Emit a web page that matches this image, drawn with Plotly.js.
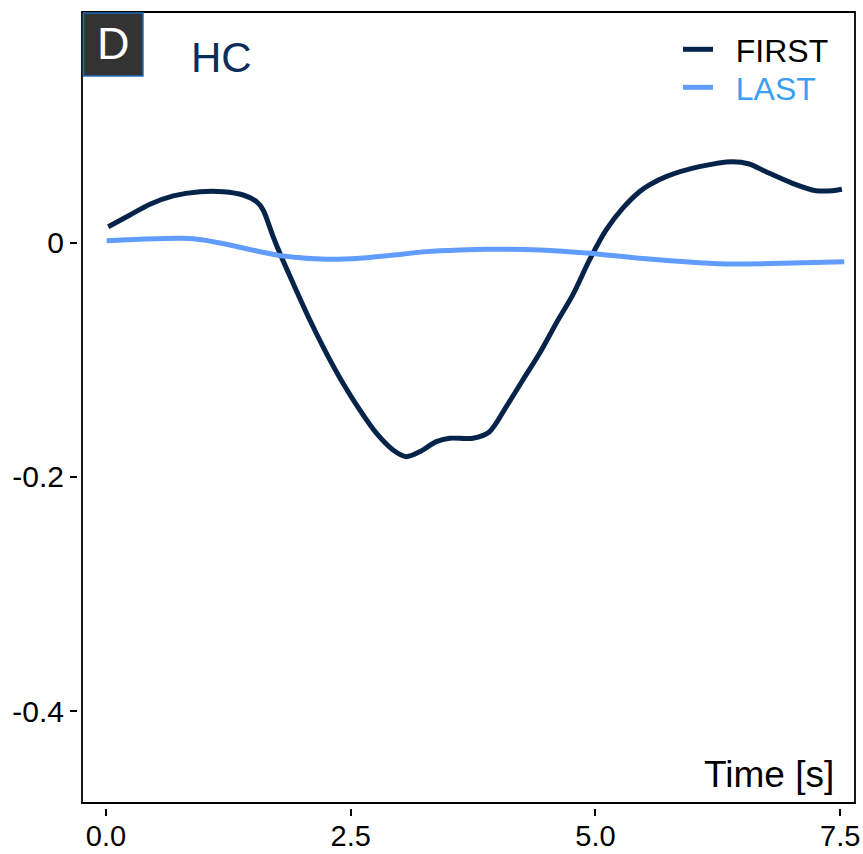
<!DOCTYPE html>
<html>
<head>
<meta charset="utf-8">
<script src="https://cdn.plot.ly/plotly-3.0.1.min.js"></script>
<style>html,body{margin:0;padding:0;background:#fff;}#chart{width:863px;height:854px;}</style>
</head>
<body>
<div id="chart"></div>
<script>
// FIRST series (time in s, value)
const firstTime = [0.023,0.245,0.449,0.687,0.959,1.197,1.401,1.538,1.605,1.707,1.776,1.911,2.082,2.252,2.421,2.592,2.762,2.932,3.068,3.204,3.374,3.510,3.748,3.918,4.089,4.258,4.429,4.599,4.768,4.939,5.109,5.279,5.449,5.551,5.721,6.061,6.401,6.571,6.742,7.013,7.252,7.421,7.517];
const firstValue = [0.0139,0.0239,0.0331,0.0402,0.0438,0.0438,0.0410,0.0353,0.0282,0.0054,-0.0088,-0.0344,-0.0658,-0.0943,-0.1199,-0.1427,-0.1626,-0.1769,-0.1826,-0.1784,-0.1698,-0.1669,-0.1669,-0.1613,-0.1399,-0.1171,-0.0943,-0.0686,-0.0444,-0.0145,0.0111,0.0297,0.0438,0.0496,0.0567,0.0652,0.0695,0.0675,0.0609,0.0510,0.0447,0.0447,0.0459];
// LAST series
const lastTime = [0.007,0.347,0.789,0.993,1.265,1.538,1.809,2.252,2.592,2.932,3.272,3.612,3.918,4.429,4.939,5.449,6.061,6.401,6.911,7.541];
const lastValue = [0.0020,0.0032,0.0040,0.0026,-0.0017,-0.0068,-0.0111,-0.0139,-0.0131,-0.0103,-0.0074,-0.0060,-0.0054,-0.0060,-0.0088,-0.0131,-0.0168,-0.0179,-0.0174,-0.0160];
// Ticks
const xTickVals = [0, 2.5, 5, 7.5];
const xTickText = ["0.0", "2.5", "5.0", "7.5"];
const yTickVals = [0, -0.2, -0.4];
const yTickText = ["0", "-0.2", "-0.4"];

const FONT = '"Liberation Sans", Arial, Helvetica, sans-serif';
const NB = '\u00a0\u00a0';

const traces = [
  {x: firstTime, y: firstValue, type: 'scatter', mode: 'lines', name: NB + 'FIRST', legend: 'legend',
   line: {color: '#06244a', width: 5, shape: 'spline', smoothing: 0.8}},
  {x: lastTime, y: lastValue, type: 'scatter', mode: 'lines', name: NB + '<span style="color:#3a9ff0">LAST</span>', legend: 'legend2',
   line: {color: '#619CFF', width: 5, shape: 'spline', smoothing: 0.8}}
];

const L = 78, R = 855, T = 12, B = 808;
const PW = R - L, PH = B - T;
const px = v => (v - L) / PW;
const py = v => (B - v) / PH;

const legendBase = {xanchor: 'left', yanchor: 'top',
  font: {family: FONT, size: 32, color: '#000'},
  bgcolor: 'rgba(0,0,0,0)', borderwidth: 0, itemwidth: 30, tracegroupgap: 0};

const layout = {
  width: 863, height: 854,
  margin: {l: L, r: 863 - R, t: T, b: 854 - B, pad: 0},
  paper_bgcolor: '#fff', plot_bgcolor: '#fff',
  font: {family: FONT, color: '#000'},
  showlegend: true,
  legend: Object.assign({}, legendBase, {x: px(678), y: py(22)}),
  legend2: Object.assign({}, legendBase, {x: px(678), y: py(60)}),
  xaxis: {range: [-0.286, 7.651], tickvals: xTickVals, ticktext: xTickText,
          ticks: 'outside', ticklen: 7, tickwidth: 2, tickcolor: '#000',
          showline: false, showgrid: false, zeroline: false, ticklabelstandoff: -5,
          tickfont: {family: FONT, size: 29, color: '#000'}},
  yaxis: {range: [-0.4829, 0.1974], tickvals: yTickVals, ticktext: yTickText,
          ticks: 'outside', ticklen: 7, tickwidth: 2, tickcolor: '#000',
          showline: false, showgrid: false, zeroline: false,
          tickfont: {family: FONT, size: 30, color: '#000'}},
  shapes: [
    {type: 'rect', xref: 'paper', yref: 'paper', x0: px(82), x1: px(855), y0: py(803), y1: py(12),
     line: {color: '#000', width: 1.8}, fillcolor: 'rgba(0,0,0,0)', layer: 'above'},
    {type: 'rect', xref: 'paper', yref: 'paper', x0: px(83.5), x1: px(143), y0: py(76), y1: py(13),
     line: {color: '#1f6fc0', width: 1.5}, fillcolor: '#333333', layer: 'above'}
  ],
  annotations: [
    {text: 'D', xref: 'paper', yref: 'paper', x: px(113), y: py(44), xanchor: 'center', yanchor: 'middle',
     showarrow: false, font: {family: FONT, size: 45, color: '#fff'}},
    {text: 'HC', xref: 'paper', yref: 'paper', x: px(189), y: py(58), xanchor: 'left', yanchor: 'middle',
     showarrow: false, font: {family: FONT, size: 42, color: '#0b2d5a'}},
    {text: 'Time [s]', xref: 'paper', yref: 'paper', x: px(836), y: py(774), xanchor: 'right', yanchor: 'middle',
     showarrow: false, font: {family: FONT, size: 37, color: '#000'}}
  ]
};

Plotly.newPlot('chart', traces, layout, {displayModeBar: false, staticPlot: true});
</script>
</body>
</html>
